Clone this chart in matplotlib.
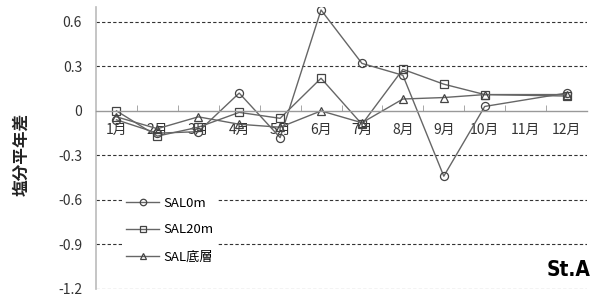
import numpy as np
import matplotlib
matplotlib.use("Agg")
import matplotlib.pyplot as plt

plt.rcParams['font.family'] = ['Noto Sans CJK JP', 'DejaVu Sans']

months = [1, 2, 3, 4, 5, 6, 7, 8, 9, 10, 12]
month_labels = ['1月', '2月', '3月', '4月', '5月', '6月', '7月', '8月', '9月', '10月', '11月', '12月']
sal0 = [-0.06, -0.15, -0.14, 0.12, -0.18, 0.68, 0.32, 0.24, -0.44, 0.03, 0.12]
sal20 = [0.0, -0.17, -0.11, -0.01, -0.05, 0.22, -0.09, 0.28, 0.18, 0.11, 0.10]
salb = [-0.04, -0.12, -0.04, -0.09, -0.11, 0.0, -0.08, 0.08, 0.09, 0.11, 0.11]

fig = plt.figure(figsize=(6.06, 3.0), dpi=100)
ax = fig.add_axes([96/606, 11/300, 491/606, 282/300])

lc = '#666666'
mk = dict(markerfacecolor='none', markeredgecolor='#444444', markersize=5.8, markeredgewidth=0.9)
ax.plot(months, sal0, '-', color=lc, lw=1.0, marker='o', label='SAL0m', **mk)
ax.plot(months, sal20, '-', color=lc, lw=1.0, marker='s', label='SAL20m', **mk)
ax.plot(months, salb, '-', color=lc, lw=1.0, marker='^', label='SAL底層', **mk)

ax.set_xlim(0.5, 12.5)
ax.set_ylim(-1.2, 0.7)
yt = [-1.2, -0.9, -0.6, -0.3, 0, 0.3, 0.6]
ax.set_yticks(yt)
ax.set_yticklabels(['-1.2', '-0.9', '-0.6', '-0.3', '0', '0.3', '0.6'], fontsize=10, color='#333333')
ax.tick_params(axis='y', length=0, pad=10)
for v in yt:
    if v != 0:
        ax.axhline(v, color='#333333', lw=0.8, ls=(0, (3, 2)), zorder=0)

for s in ['top', 'right']:
    ax.spines[s].set_visible(False)
ax.spines['left'].set_color('#bbbbbb')
ax.spines['left'].set_linewidth(1.2)
ax.spines['bottom'].set_position(('data', 0))
ax.spines['bottom'].set_color('#999999')
ax.spines['bottom'].set_linewidth(1.0)

ax.set_xticks(range(1, 13))
ax.set_xticklabels(month_labels, fontsize=10, color='#333333')
ax.set_xticks(np.arange(1.5, 12.5, 1), minor=True)
ax.tick_params(axis='x', which='major', length=0, pad=9)
ax.tick_params(axis='x', which='minor', length=4, color='#999999', direction='in')

fig.text(0.035, 0.485, '塩分平年差', rotation=90, fontsize=12, fontweight='bold',
         ha='center', va='center', color='#222222')
fig.text(0.974, 0.1, 'St.A', fontsize=15, fontweight='bold', family='DejaVu Sans',
         fontstretch='condensed', ha='right', va='center')

leg = ax.legend(loc='upper left', bbox_to_anchor=(0.04, 0.365), frameon=True, fontsize=9.5,
                handlelength=2.5, labelspacing=1.05, borderpad=0.3, handletextpad=0.3,
                markerscale=0.8)
leg.get_frame().set_edgecolor('none')
leg.get_frame().set_facecolor('white')
leg.get_frame().set_alpha(1)

fig.savefig('out.png', dpi=100)
